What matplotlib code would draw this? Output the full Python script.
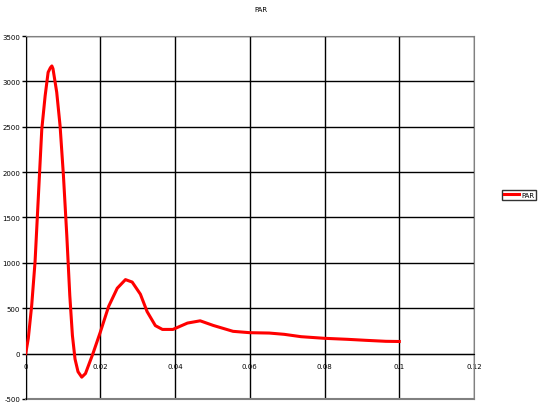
import matplotlib
matplotlib.use('Agg')
import matplotlib.pyplot as plt

# values
t = [0.0, 0.0007, 0.0016, 0.0025, 0.0034, 0.0043, 0.0052, 0.0060, 0.0066,
     0.0070, 0.0073, 0.0083, 0.0092, 0.0101, 0.0110, 0.0118, 0.0125, 0.0132,
     0.0140, 0.0150, 0.0160, 0.0170, 0.0180, 0.0200, 0.0222, 0.0245, 0.0267,
     0.0285, 0.0307, 0.0325, 0.0347, 0.0366, 0.0394, 0.0433, 0.0467, 0.0502,
     0.0555, 0.0600, 0.0652, 0.0692, 0.0737, 0.0800, 0.0861, 0.0910, 0.0964,
     0.1000]
par = [0, 170, 530, 1010, 1740, 2470, 2840, 3100, 3150,
       3170, 3140, 2880, 2510, 1960, 1300, 640, 200, -60,
       -200, -260, -220, -110, 0, 240, 520, 720, 815,
       788, 654, 462, 308, 266, 266, 336, 361, 310,
       245, 230, 226, 212, 186, 168, 157, 146, 135,
       133]

x_ticks = [0, 0.02, 0.04, 0.06, 0.08, 0.1, 0.12]
x_labels = ['0', '0.02', '0.04', '0.06', '0.08', '0.1', '0.12']
y_ticks = [-500, 0, 500, 1000, 1500, 2000, 2500, 3000, 3500]

fig = plt.figure(figsize=(5.39, 4.14), dpi=100)
ax = fig.add_axes([0.0477, 0.034, 0.8317, 0.8766])

ax.plot(t, par, color='#ff0000', lw=2.2, label='PAR', zorder=3)

ax.set_xlim(0, 0.12)
ax.set_ylim(-500, 3500)
ax.set_xticks(x_ticks)
ax.set_xticklabels(x_labels)
ax.set_yticks(y_ticks)
ax.set_yticklabels([str(v) for v in y_ticks])
ax.grid(True, color='black', lw=1)

ax.spines['bottom'].set_position(('data', 0))
ax.spines['bottom'].set_color('black')
ax.spines['left'].set_color('black')
ax.spines['top'].set_color('#808080')
ax.spines['right'].set_color('#808080')
ax.axhline(-500, color='#808080', lw=1.5, clip_on=False)

ax.tick_params(axis='x', length=0, pad=7, labelsize=5)
ax.tick_params(axis='y', length=3, width=1, pad=1, labelsize=5)

fig.text(0.484, 0.975, 'PAR', ha='center', va='center', fontsize=5)

leg = fig.legend(loc='center', bbox_to_anchor=(0.963, 0.527), fontsize=5,
                 frameon=True, fancybox=False, handlelength=2.2,
                 handletextpad=0.3, borderpad=0.3, borderaxespad=0)
leg.get_frame().set_edgecolor('black')
leg.get_frame().set_linewidth(1)

fig.savefig('out.png', dpi=100)
